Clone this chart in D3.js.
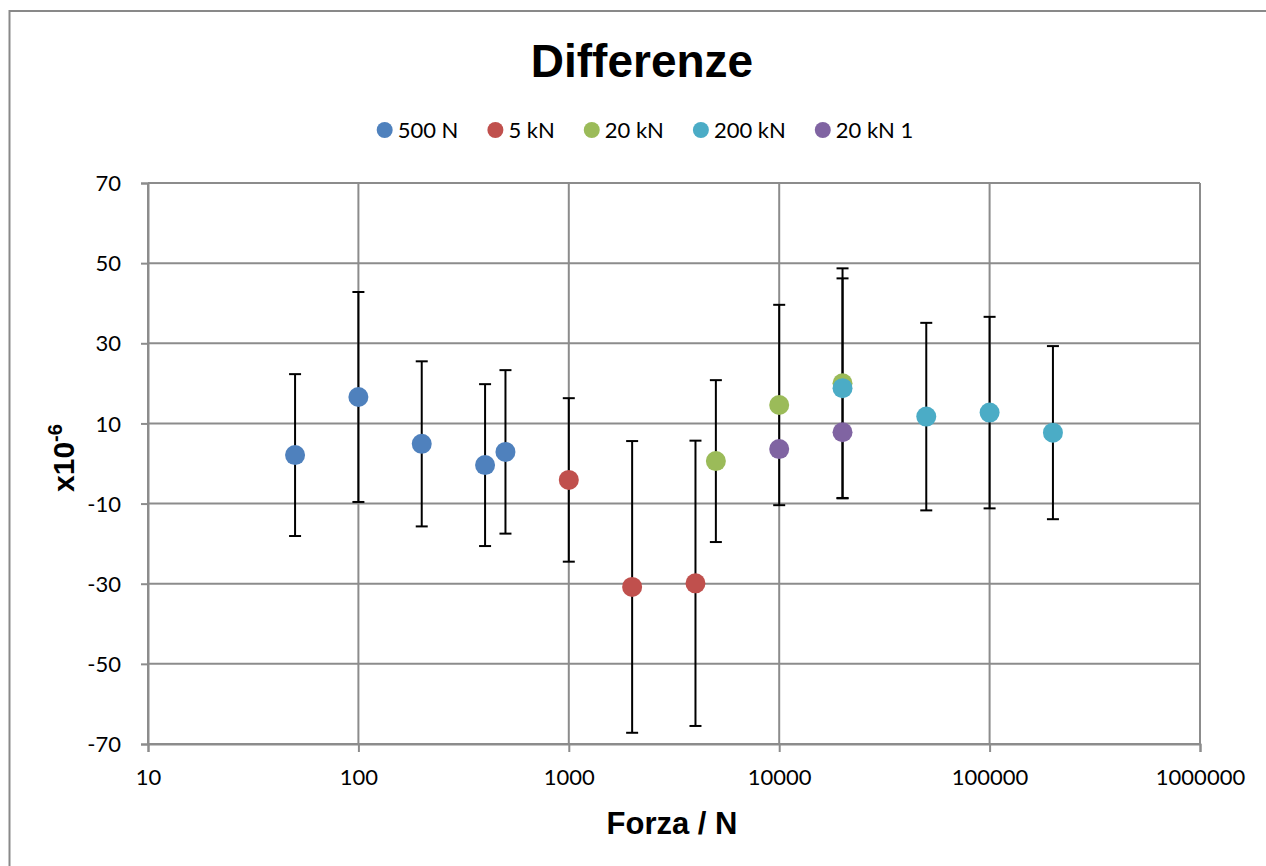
<!DOCTYPE html>
<html>
<head>
<meta charset="utf-8">
<script src="https://cdn.jsdelivr.net/npm/d3@7"></script>
<style>
  body { margin: 0; background: #fff; }
  .tick text { font-family: Lato, "Open Sans", sans-serif; font-size: 22px; fill: #000; }
</style>
</head>
<body>
<div id="chart"></div>
<script>
// Dati
const seriesNames = ["500 N", "5 kN", "20 kN", "200 kN", "20 kN 1"]
const seriesColors = ["#4f81bd", "#c0504d", "#9bbb59", "#4bacc6", "#8064a2"]

const forza500 = [50, 100, 200, 400, 500]
const diff500 = [2.1, 16.6, 4.9, -0.4, 2.9]
const err500 = [20.2, 26.2, 20.6, 20.2, 20.4]

const forza5k = [1000, 2000, 4000]
const diff5k = [-4.1, -30.8, -29.9]
const err5k = [20.4, 36.4, 35.6]

const forza20k = [5000, 10000, 20000]
const diff20k = [0.6, 14.6, 20.0]
const err20k = [20.2, 25.0, 28.7]

const forza200k = [20000, 50000, 100000, 200000]
const diff200k = [18.8, 11.7, 12.7, 7.7]
const err200k = [27.4, 23.4, 23.9, 21.6]

const forza20k1 = [10000, 20000]
const diff20k1 = [3.6, 7.8]

const xTicks = [10, 100, 1000, 10000, 100000, 1000000]
const yTicks = [-70, -50, -30, -10, 10, 30, 50, 70]

const series = [
  {x: forza500, y: diff500, e: err500},
  {x: forza5k, y: diff5k, e: err5k},
  {x: forza20k, y: diff20k, e: err20k},
  {x: forza200k, y: diff200k, e: err200k},
  {x: forza20k1, y: diff20k1, e: null}
]

const width = 1266, height = 866
const svg = d3.select("#chart").append("svg")
  .attr("width", width)
  .attr("height", height)

// cornice
svg.append("rect")
  .attr("x", 9.5).attr("y", 11)
  .attr("width", 1300).attr("height", 900)
  .attr("fill", "none").attr("stroke", "#898989").attr("stroke-width", 2)

const x = d3.scaleLog().domain([10, 1000000]).range([148, 1200])
const y = d3.scaleLinear().domain([-70, 70]).range([744, 183])

// griglia
svg.append("g").selectAll("line").data(yTicks).join("line")
  .attr("x1", 148).attr("x2", 1200)
  .attr("y1", d => y(d)).attr("y2", d => y(d))
  .attr("stroke", "#8c8c8c").attr("stroke-width", 2)
svg.append("g").selectAll("line").data(xTicks).join("line")
  .attr("x1", d => x(d)).attr("x2", d => x(d))
  .attr("y1", 183).attr("y2", 744)
  .attr("stroke", "#8c8c8c").attr("stroke-width", 2)

// assi
const yAxis = svg.append("g")
  .attr("transform", "translate(148,0)")
  .call(d3.axisLeft(y).tickValues(yTicks).tickSize(7).tickPadding(20).tickFormat(d => String(d)))
const xAxis = svg.append("g")
  .attr("transform", "translate(0,744)")
  .call(d3.axisBottom(x).tickValues(xTicks).tickSize(8).tickPadding(16).tickFormat(d => String(d)))
svg.selectAll(".domain").attr("stroke", "#8c8c8c").attr("stroke-width", 2)
svg.selectAll(".tick line").attr("stroke", "#8c8c8c").attr("stroke-width", 2)
xAxis.selectAll(".tick text").attr("dy", "0.75em")
yAxis.selectAll(".tick text").attr("dy", "0.35em")

// barre d'errore
series.forEach(s => {
  if (!s.e) return
  const g = svg.append("g").attr("stroke", "#000").attr("stroke-width", 2)
  s.x.forEach((xv, i) => {
    const top = y(s.y[i] + s.e[i]), bot = y(s.y[i] - s.e[i])
    g.append("line").attr("x1", x(xv)).attr("x2", x(xv)).attr("y1", top).attr("y2", bot)
    g.append("line").attr("x1", x(xv) - 6).attr("x2", x(xv) + 6).attr("y1", top).attr("y2", top)
    g.append("line").attr("x1", x(xv) - 6).attr("x2", x(xv) + 6).attr("y1", bot).attr("y2", bot)
  })
})

// punti
series.forEach((s, k) => {
  svg.append("g").selectAll("circle").data(s.x).join("circle")
    .attr("cx", d => x(d))
    .attr("cy", (d, i) => y(s.y[i]))
    .attr("r", 10)
    .attr("fill", seriesColors[k])
})

// titolo
svg.append("text")
  .attr("x", 642).attr("y", 77)
  .attr("text-anchor", "middle")
  .style("font-family", "Liberation Sans, Arial, sans-serif")
  .style("font-weight", "bold")
  .style("font-size", "46px")
  .text("Differenze")

// legenda, centrata
const leg = svg.append("g")
let cursor = 0
seriesNames.forEach((n, k) => {
  leg.append("circle").attr("cx", cursor + 8).attr("cy", 130).attr("r", 8).attr("fill", seriesColors[k])
  const t = leg.append("text").attr("x", cursor + 21).attr("y", 138)
    .style("font-family", "Lato, 'Open Sans', sans-serif")
    .style("font-size", "22px")
    .text(n)
  cursor += 21 + t.node().getComputedTextLength() + 29
})
cursor -= 29
leg.attr("transform", `translate(${645 - cursor / 2},0)`)

// titoli degli assi
svg.append("text")
  .attr("x", 672).attr("y", 834)
  .attr("text-anchor", "middle")
  .style("font-family", "Liberation Sans, Arial, sans-serif")
  .style("font-weight", "bold")
  .style("font-size", "31px")
  .text("Forza / N")

const yl = svg.append("text")
  .attr("transform", "translate(74,458) rotate(-90)")
  .attr("text-anchor", "middle")
  .style("font-family", "Liberation Sans, Arial, sans-serif")
  .style("font-weight", "bold")
  .style("font-size", "30px")
yl.append("tspan").text("x10")
yl.append("tspan").attr("dy", -12).style("font-size", "20px").text("-6")
</script>
</body>
</html>
